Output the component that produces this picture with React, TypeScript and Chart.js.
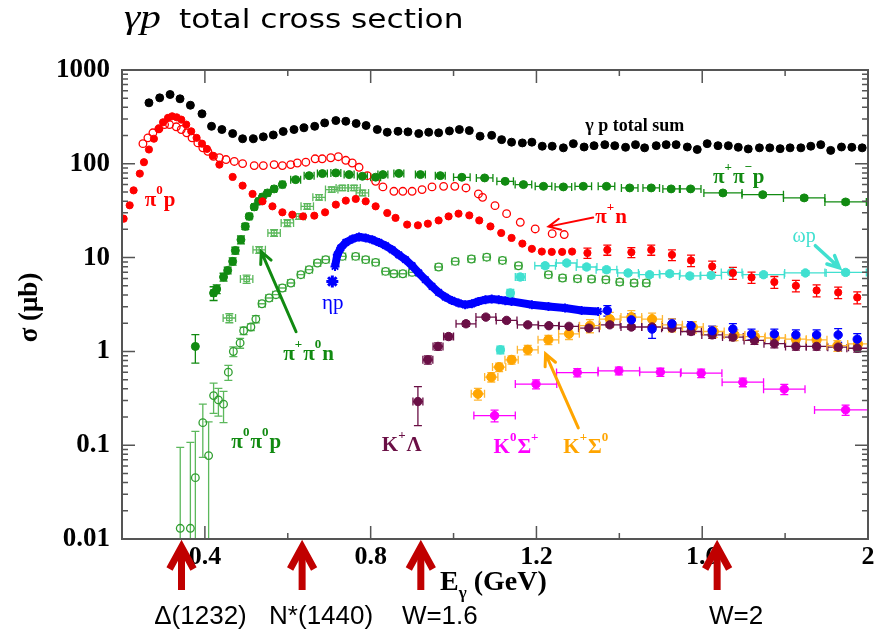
import React, { useEffect, useRef } from 'react';
import { Chart, registerables } from 'chart.js';

Chart.register(...registerables);

const SERIF = '"Liberation Serif", "Times New Roman", Times, serif';
const SANS = '"Liberation Sans", Arial, Helvetica, sans-serif';

// ---------- axes ----------
const xTickValues = [0.2, 0.4, 0.6, 0.8, 1.0, 1.2, 1.4, 1.6, 1.8, 2.0];
const xTickLabels = ['', '0.4', '', '0.8', '', '1.2', '', '1.6', '', '2'];
const yTickValues = [0.01, 0.1, 1, 10, 100, 1000];
const yTickLabels = ['0.01', '0.1', '1', '10', '100', '1000'];

// ---------- gamma p total sum ----------
const sumE = [0.265, 0.291, 0.316, 0.340, 0.365, 0.393, 0.416, 0.441, 0.467, 0.491,
  0.517, 0.541, 0.565, 0.589, 0.615, 0.639, 0.665, 0.689, 0.716, 0.740,
  0.765, 0.789, 0.816, 0.840, 0.866, 0.890, 0.916, 0.940, 0.964, 0.990,
  1.014, 1.038, 1.064, 1.092, 1.116, 1.140, 1.166, 1.189, 1.214, 1.238,
  1.265, 1.289, 1.315, 1.339, 1.365, 1.389, 1.415, 1.439, 1.461, 1.489,
  1.513, 1.537, 1.564, 1.588, 1.612, 1.638, 1.663, 1.687, 1.711, 1.738,
  1.763, 1.788, 1.812, 1.838, 1.862, 1.886, 1.910, 1.936, 1.961, 1.986];
const sumS = [447, 505, 548, 493, 421, 341, 251, 232, 210, 185,
  185, 194, 203, 221, 232, 242, 251, 273, 289, 284,
  269, 256, 232, 217, 222, 219, 210, 217, 214, 224,
  232, 226, 197, 201, 181, 170, 167, 170, 154, 154,
  148, 164, 151, 156, 160, 156, 150, 160, 148, 156,
  160, 160, 151, 142, 164, 156, 156, 150, 144, 148,
  148, 145, 148, 148, 154, 160, 139, 151, 150, 148];

// ---------- pi0 p ----------
const pi0pE = [0.204, 0.2185, 0.228, 0.243, 0.253, 0.265, 0.277, 0.289, 0.299, 0.311,
  0.321, 0.332, 0.343, 0.355, 0.367, 0.380, 0.393, 0.405, 0.419, 0.435,
  0.467, 0.491, 0.515, 0.539, 0.563, 0.587, 0.611, 0.637, 0.664, 0.690,
  0.716, 0.740, 0.764, 0.788, 0.812, 0.840, 0.860, 0.888, 0.914, 0.938,
  0.964, 0.988, 1.012, 1.038, 1.062, 1.089, 1.115, 1.140, 1.166, 1.189,
  1.213, 1.237, 1.262, 1.286, 1.323, 1.371, 1.429, 1.477, 1.527, 1.573,
  1.624, 1.674, 1.719, 1.774, 1.826, 1.876, 1.928, 1.974];
const pi0pS = [26.0, 36.1, 52.1, 78.6, 104, 142, 185, 236, 277, 309,
  321, 313, 296, 262, 222, 189, 164, 144, 122, 98,
  72.4, 58.5, 47.7, 39.8, 35.2, 30.4, 28.7, 27.5, 28.0, 30.4,
  36.7, 40.5, 42.2, 39.8, 35.2, 29.9, 26.5, 22.5, 22.1, 23.0,
  24.9, 27.5, 29.4, 28.2, 24.9, 21.5, 18.3, 16.2, 14.1, 12.4,
  11.6, 11.5, 11.5, 11.6, 11.2, 12.1, 11.4, 12.1, 10.7, 9.33,
  8.05, 6.86, 6.15, 5.49, 5.01, 4.47, 4.25, 3.76];
const pi0pDy = [0, 0, 0, 0, 0, 0, 0, 0, 0, 0,
  0, 0, 0, 0, 0, 0, 0, 0, 0, 0,
  0, 0, 0, 0, 0, 0, 0, 0, 0, 0,
  0, 0, 0, 0, 0, 0, 0, 0, 0, 0,
  0, 0, 0, 0, 0, 0, 0, 0, 0, 0,
  0, 0, 0, 0, 1.4, 1.5, 1.4, 1.5, 1.4, 1.3,
  1.1, 1.0, 0.85, 0.8, 0.7, 0.65, 0.6, 0.55];

// ---------- pi+ n ----------
const pipnE = [0.2505, 0.2625, 0.2746, 0.289, 0.3027, 0.3147, 0.331, 0.343, 0.356, 0.369,
  0.383, 0.395, 0.407, 0.4206, 0.435, 0.451, 0.471, 0.491, 0.519, 0.541,
  0.567, 0.587, 0.607, 0.623, 0.6435, 0.666, 0.683, 0.7037, 0.722, 0.740,
  0.7556, 0.772, 0.792, 0.812, 0.8295, 0.856, 0.8776, 0.900, 0.924, 0.948,
  0.976, 1.003, 1.030, 1.060, 1.070, 1.100, 1.128, 1.161, 1.197, 1.238, 1.267];
const pipnS = [164, 189, 214, 236, 262, 262, 248, 232, 214, 189,
  167, 148, 136, 120, 116, 111, 106, 100.5, 95.7, 95.7,
  98, 95.7, 98, 102, 104, 113, 113, 116, 119, 109,
  102, 91.8, 74.8, 65.0, 56.7, 50.9, 50.9, 50.9, 53.1, 56.7,
  57.5, 57.5, 55.3, 47.7, 43.9, 35.8, 29.4, 23.8, 20.2, 18.0, 17.6];

// ---------- pi+ pi- p ----------
const pippimE = [0.377, 0.421, 0.4285, 0.445, 0.455, 0.467, 0.4735, 0.487, 0.4975, 0.507,
  0.519, 0.5295, 0.539, 0.551, 0.567, 0.587, 0.619, 0.6515, 0.6835, 0.716,
  0.748, 0.780, 0.812, 0.8295, 0.868, 0.920, 0.968, 1.020, 1.075, 1.1245,
  1.1686, 1.217, 1.265, 1.313, 1.369, 1.425, 1.477, 1.525, 1.572, 1.650,
  1.746, 1.846, 1.946];
const pippimS = [1.13, 4.19, 4.62, 6.21, 7.30, 9.11, 11.9, 15.5, 21.5, 27.5,
  34.7, 39.8, 44.3, 48.9, 54.0, 60.0, 67.8, 74.8, 78.6, 80,
  76.7, 73.6, 72, 76.7, 79, 76.7, 74.8, 71.8, 70.7, 65.0,
  60.0, 57.5, 56.7, 57.5, 57.5, 55.3, 55.3, 54.0, 54.0, 48.9,
  46.9, 43.3, 39.2];
const pippimDx = [0, 0.006, 0.006, 0.006, 0.006, 0.006, 0.006, 0.006, 0.006, 0.006,
  0.006, 0.006, 0.006, 0.006, 0.006, 0.006, 0.012, 0.012, 0.012, 0.012,
  0.012, 0.012, 0.012, 0.012, 0.012, 0.012, 0.012, 0.02, 0.02, 0.02,
  0.02, 0.02, 0.02, 0.02, 0.02, 0.02, 0.02, 0.02, 0.025, 0.046,
  0.05, 0.05, 0.05];
const pippimDy = [0.38, 0.7, 0.5, 0.6, 0.6, 0.8, 1.0, 1.5, 1.5, 1.5,
  1.5, 1.5, 1.5, 1.5, 1.5, 1.5, 1.5, 1.5, 1.5, 1.5,
  1.5, 1.5, 1.5, 1.5, 2, 2, 2, 2, 2, 2,
  2, 2, 2, 2, 2, 2, 2, 2, 2, 2,
  2, 2, 2];

// ---------- pi+ pi0 n ----------
const pippi0E = [0.459, 0.5007, 0.531, 0.567, 0.599, 0.627, 0.647, 0.6755, 0.706, 0.7316, 0.760, 0.780];
const pippi0S = [2.27, 5.91, 12.1, 18.3, 23.4, 27.5, 35.2, 43.9, 53.1, 55.3, 55.3, 48.9];
const pippi0Dx = [0.015, 0.015, 0.015, 0.015, 0.015, 0.015, 0.015, 0.015, 0.015, 0.015, 0.015, 0.015];
const pippi0Dy = [0.25, 0.6, 1.0, 1.5, 2, 2, 2.5, 3, 3.5, 3.5, 3.5, 3.5];

// ---------- pi0 pi0 p ----------
const pi0pi0E = [0.3405, 0.365, 0.377, 0.395, 0.409, 0.421, 0.4326, 0.445, 0.4566, 0.4687,
  0.485, 0.4935, 0.511, 0.523, 0.5377, 0.555, 0.5714, 0.587, 0.6075, 0.6315,
  0.6515, 0.6714, 0.6916, 0.7316, 0.7638, 0.788, 0.812, 0.836, 0.856, 0.8776,
  0.900, 0.964, 1.004, 1.043, 1.080, 1.118, 1.1566, 1.2288, 1.263, 1.299,
  1.333, 1.3675, 1.401, 1.4356, 1.465];
const pi0pi0S = [0.013, 0.013, 0.0451, 0.174, 0.0775, 0.338, 0.304, 0.274, 0.601, 0.998,
  1.23, 1.66, 1.82, 2.21, 3.22, 3.71, 4.02, 4.74, 5.36, 6.57,
  7.43, 8.76, 9.51, 10.3, 10.3, 9.51, 8.89, 7.13, 6.73, 6.73,
  6.95, 7.94, 9.11, 9.66, 10.1, 9.33, 8.19, 6.57, 6.06, 5.96,
  5.91, 5.81, 5.49, 5.36, 5.36];
const pi0pi0Dy = [0.082, 0.094, 0.095, 0.1, 0.1, 0.12, 0.1, 0.1, 0.11, 0.12,
  0.15, 0.15, 0.15, 0.2, 0, 0, 0, 0, 0, 0,
  0, 0, 0, 0, 0, 0, 0, 0, 0, 0,
  0, 0, 0, 0, 0, 0, 0, 0, 0, 0,
  0, 0, 0, 0, 0];
const pi0pi0Dx = [0, 0, 0, 0, 0, 0, 0, 0, 0, 0,
  0, 0, 0, 0, 0.008, 0.008, 0.008, 0.008, 0.008, 0.008,
  0.008, 0.008, 0.008, 0.008, 0.008, 0.008, 0.008, 0.008, 0.008, 0.008,
  0.008, 0.008, 0.008, 0.008, 0.008, 0.008, 0.008, 0.008, 0.008, 0.008,
  0.008, 0.008, 0.008, 0.008, 0.008];

// ---------- eta p ----------
const etaBandE = [0.714, 0.7195, 0.728, 0.740, 0.756, 0.772, 0.788, 0.804, 0.820, 0.836,
  0.852, 0.868, 0.884, 0.900, 0.916, 0.932, 0.948, 0.964, 0.980, 0.996,
  1.012, 1.028, 1.044, 1.060, 1.077, 1.092, 1.109, 1.125, 1.140, 1.189,
  1.229, 1.269, 1.309, 1.349];
const etaBandS = [8.05, 10.7, 12.7, 14.5, 15.8, 16.6, 16.2, 15.5, 14.5, 13.4,
  12.1, 10.7, 9.51, 8.19, 6.86, 5.81, 4.93, 4.25, 3.80, 3.49,
  3.28, 3.14, 3.22, 3.41, 3.56, 3.61, 3.56, 3.47, 3.41, 3.14,
  3.01, 2.90, 2.73, 2.67];
const etaLoneE = [0.7075];
const etaLoneS = [5.57];
const etaHiE = [1.371, 1.429, 1.479, 1.527, 1.573, 1.624, 1.674, 1.719, 1.774, 1.826, 1.876, 1.928, 1.974];
const etaHiS = [2.73, 2.17, 1.73, 1.97, 1.88, 1.66, 1.73, 1.53, 1.53, 1.50, 1.50, 1.50, 1.35];
const etaHiDy = [0.35, 0.35, 0.35, 0.25, 0.2, 0.2, 0.25, 0.2, 0.2, 0.2, 0.2, 0.25, 0.2];

// ---------- omega p ----------
const omegaE = [1.113, 1.137, 1.161, 1.221, 1.273, 1.321, 1.369, 1.421, 1.473, 1.5215, 1.570, 1.6215, 1.671, 1.748, 1.849, 1.946];
const omegaS = [1.04, 4.19, 6.21, 8.19, 8.76, 7.94, 7.43, 6.86, 6.57, 6.73, 6.37, 6.46, 6.95, 6.57, 6.86, 6.95];
const omegaDx = [0.008, 0.008, 0.012, 0.025, 0.025, 0.025, 0.025, 0.025, 0.025, 0.025, 0.025, 0.025, 0.025, 0.05, 0.05, 0.05];
const omegaDy = [0.1, 0.4, 0.5, 0.5, 0.5, 0.5, 0.5, 0.4, 0.4, 0.4, 0.4, 0.4, 0.4, 0.4, 0.4, 0.4];

// ---------- K+ Lambda ----------
const kLamE = [0.914, 0.938, 0.9625, 0.988, 1.030, 1.078, 1.128, 1.179, 1.230, 1.2785,
  1.3266, 1.377, 1.429, 1.479, 1.527, 1.573, 1.624, 1.674, 1.726, 1.774,
  1.826, 1.876, 1.928, 1.974];
const kLamS = [0.292, 0.813, 1.13, 1.44, 1.97, 2.32, 2.14, 1.92, 1.88, 1.85,
  1.77, 1.92, 1.82, 1.82, 1.77, 1.63, 1.50, 1.42, 1.31, 1.21,
  1.13, 1.13, 1.11, 1.08];
const kLamDx = [0.012, 0.012, 0.012, 0.012, 0.024, 0.024, 0.025, 0.025, 0.025, 0.025,
  0.025, 0.025, 0.025, 0.025, 0.025, 0.025, 0.025, 0.025, 0.025, 0.025,
  0.025, 0.025, 0.025, 0.025];
const kLamDy = [0.13, 0.08, 0.1, 0.1, 0.12, 0.12, 0.1, 0.08, 0.08, 0.08,
  0.08, 0.1, 0.1, 0.1, 0.1, 0.12, 0.12, 0.12, 0.12, 0.12,
  0.1, 0.1, 0.1, 0.1];

// ---------- K0 Sigma+ ----------
const k0SigE = [1.099, 1.199, 1.2985, 1.3988, 1.499, 1.5975, 1.698, 1.798, 1.946];
const k0SigS = [0.207, 0.448, 0.595, 0.621, 0.601, 0.586, 0.47, 0.396, 0.238];
const k0SigDx = [0.05, 0.05, 0.05, 0.05, 0.05, 0.05, 0.05, 0.05, 0.075];
const k0SigDy = [0.03, 0.05, 0.06, 0.06, 0.06, 0.06, 0.05, 0.05, 0.03];

// ---------- K+ Sigma0 ----------
const kSig0E = [1.0587, 1.091, 1.110, 1.140, 1.179, 1.2288, 1.2785, 1.329, 1.377, 1.429,
  1.479, 1.527, 1.5775, 1.628, 1.678, 1.727, 1.7755, 1.826, 1.876, 1.926, 1.976];
const kSig0S = [0.353, 0.532, 0.68, 0.813, 1.04, 1.33, 1.54, 1.88, 2.21, 2.32,
  2.21, 1.92, 1.82, 1.63, 1.50, 1.44, 1.39, 1.35, 1.33, 1.15, 1.20];
const kSig0Dx = [0.016, 0.016, 0.016, 0.016, 0.025, 0.025, 0.025, 0.025, 0.025, 0.025,
  0.025, 0.025, 0.025, 0.025, 0.025, 0.025, 0.025, 0.025, 0.025, 0.025, 0.025];
const kSig0Dy = [0.05, 0.06, 0.07, 0.08, 0.12, 0.15, 0.2, 0.3, 0.4, 0.4,
  0.35, 0.3, 0.25, 0.22, 0.2, 0.2, 0.18, 0.18, 0.18, 0.15, 0.15];

// ---------- resonance / threshold markers ----------
const thresholdE = [0.3436, 0.6346, 0.921, 1.636];
const thresholdLabels = ['Δ(1232)', 'N*(1440)', 'W=1.6', 'W=2'];

// ---------- colours ----------
const BLACK = '#000000';
const RED = '#ff0000';
const GREEN = '#118a11';
const MGREEN = '#2f9e2f';
const LGREEN = '#5cb85c';
const BLUE = '#0000ff';
const CYAN = '#40e0d0';
const PURPLE = '#6a0f45';
const MAGENTA = '#ff00ff';
const ORANGE = '#ffa500';
const DARKRED = '#c00000';

type Part = [string, 'n' | 'sup' | 'sub'];
const annotations: { e: number; s: number; parts: Part[]; size: number; bold: boolean; color: string }[] = [
  { e: 1.3178, s: 226, parts: [['γ p total sum', 'n']], size: 18, bold: true, color: BLACK },
  { e: 0.2546, s: 35.8, parts: [['π', 'n'], ['0', 'sup'], ['p', 'n']], size: 21, bold: true, color: RED },
  { e: 1.342, s: 23.6, parts: [['π', 'n'], ['+', 'sup'], ['n', 'n']], size: 21, bold: true, color: RED },
  { e: 1.626, s: 63, parts: [['π', 'n'], ['+', 'sup'], ['π', 'n'], ['−', 'sup'], ['p', 'n']], size: 21, bold: true, color: GREEN },
  { e: 1.818, s: 14.8, parts: [['ωp', 'n']], size: 20, bold: false, color: CYAN },
  { e: 0.6827, s: 2.85, parts: [['ηp', 'n']], size: 21, bold: false, color: BLUE },
  { e: 0.589, s: 0.813, parts: [['π', 'n'], ['+', 'sup'], ['π', 'n'], ['0', 'sup'], ['n', 'n']], size: 21, bold: true, color: GREEN },
  { e: 0.4639, s: 0.0935, parts: [['π', 'n'], ['0', 'sup'], ['π', 'n'], ['0', 'sup'], ['p', 'n']], size: 21, bold: true, color: GREEN },
  { e: 0.827, s: 0.0869, parts: [['K', 'n'], ['+', 'sup'], ['Λ', 'n']], size: 21, bold: true, color: PURPLE },
  { e: 1.0965, s: 0.0828, parts: [['K', 'n'], ['0', 'sup'], ['Σ', 'n'], ['+', 'sup']], size: 21, bold: true, color: MAGENTA },
  { e: 1.2649, s: 0.0828, parts: [['K', 'n'], ['+', 'sup'], ['Σ', 'n'], ['0', 'sup']], size: 21, bold: true, color: ORANGE },
];

const pointerArrows = [
  { e1: 1.337, s1: 26.7, e2: 1.229, s2: 21.4, color: RED, w: 2 },
  { e1: 1.873, s1: 13.4, e2: 1.931, s2: 7.8, color: CYAN, w: 3.5 },
  { e1: 0.620, s1: 1.62, e2: 0.536, s2: 11.6, color: GREEN, w: 3 },
  { e1: 1.301, s1: 0.153, e2: 1.222, s2: 0.942, color: ORANGE, w: 3 },
];

function pts(e: number[], s: number[]) {
  return e.map((x, i) => ({ x, y: s[i] }));
}

function drawParts(ctx: CanvasRenderingContext2D, x: number, y: number, parts: Part[], size: number, bold: boolean, color: string) {
  let cx = x;
  ctx.fillStyle = color;
  ctx.textAlign = 'left';
  ctx.textBaseline = 'alphabetic';
  for (const [t, m] of parts) {
    const fs = m === 'n' ? size : Math.round(size * 0.62);
    ctx.font = `${bold ? 'bold ' : ''}${fs}px ${SERIF}`;
    const dy = m === 'sup' ? -size * 0.55 : m === 'sub' ? size * 0.3 : 0;
    ctx.fillText(t, cx, y + dy);
    cx += ctx.measureText(t).width + (m === 'sup' ? 1 : 0);
  }
}

function drawArrow(ctx: CanvasRenderingContext2D, x1: number, y1: number, x2: number, y2: number, color: string, w: number) {
  const ang = Math.atan2(y2 - y1, x2 - x1);
  const head = 13;
  ctx.strokeStyle = color;
  ctx.lineWidth = w;
  ctx.lineCap = 'round';
  ctx.beginPath();
  ctx.moveTo(x1, y1);
  ctx.lineTo(x2, y2);
  ctx.moveTo(x2 - head * Math.cos(ang - 0.45), y2 - head * Math.sin(ang - 0.45));
  ctx.lineTo(x2, y2);
  ctx.lineTo(x2 - head * Math.cos(ang + 0.45), y2 - head * Math.sin(ang + 0.45));
  ctx.stroke();
}

const errorBarPlugin = {
  id: 'errorBars',
  beforeDatasetsDraw(chart: any) {
    const { ctx, chartArea: a, scales } = chart;
    const xs = scales.x, ys = scales.y;
    ctx.save();
    ctx.beginPath();
    ctx.rect(a.left, a.top, a.right - a.left, a.bottom - a.top);
    ctx.clip();
    chart.data.datasets.forEach((ds: any) => {
      if (!ds.dx && !ds.dy) return;
      ctx.strokeStyle = ds.errColor || ds.borderColor;
      ctx.lineWidth = ds.errWidth || 1.3;
      ds.data.forEach((p: any, i: number) => {
        const px = xs.getPixelForValue(p.x);
        const py = ys.getPixelForValue(p.y);
        const ex = ds.dx ? ds.dx[i] : 0;
        const ey = ds.dy ? ds.dy[i] : 0;
        ctx.beginPath();
        if (ex > 0) {
          const l = xs.getPixelForValue(p.x - ex);
          const r = xs.getPixelForValue(p.x + ex);
          ctx.moveTo(l, py); ctx.lineTo(r, py);
          ctx.moveTo(l, py - 4); ctx.lineTo(l, py + 4);
          ctx.moveTo(r, py - 4); ctx.lineTo(r, py + 4);
        }
        if (ey > 0) {
          const hasLo = p.y - ey > 0;
          const lo = hasLo ? ys.getPixelForValue(p.y - ey) : a.bottom + 5;
          const hi = ys.getPixelForValue(p.y + ey);
          ctx.moveTo(px, lo); ctx.lineTo(px, hi);
          ctx.moveTo(px - 4, hi); ctx.lineTo(px + 4, hi);
          if (hasLo) { ctx.moveTo(px - 4, lo); ctx.lineTo(px + 4, lo); }
        }
        ctx.stroke();
      });
    });
    ctx.restore();
  },
};

const decorPlugin = {
  id: 'decor',
  afterDraw(chart: any) {
    const { ctx, chartArea: a, scales } = chart;
    const xs = scales.x, ys = scales.y;
    ctx.save();

    // frame and inward ticks
    ctx.strokeStyle = '#555555';
    ctx.lineWidth = 2;
    ctx.strokeRect(a.left, a.top, a.right - a.left, a.bottom - a.top);
    ctx.lineWidth = 1.5;
    ctx.beginPath();
    for (let k = 0; k < yTickValues.length; k++) {
      for (let m = 1; m <= 9; m++) {
        const v = yTickValues[k] * m;
        if (v > 1000.0001) break;
        const py = ys.getPixelForValue(v);
        const len = m === 1 ? 13 : 6;
        ctx.moveTo(a.left, py); ctx.lineTo(a.left + len, py);
        ctx.moveTo(a.right, py); ctx.lineTo(a.right - len, py);
      }
    }
    xTickValues.forEach((v, i) => {
      const px = xs.getPixelForValue(v);
      const len = i % 2 === 1 || i === xTickValues.length - 1 ? 13 : 6;
      ctx.moveTo(px, a.bottom); ctx.lineTo(px, a.bottom - len);
      ctx.moveTo(px, a.top); ctx.lineTo(px, a.top + len);
    });
    ctx.stroke();

    // series labels
    annotations.forEach((an) => {
      drawParts(ctx, xs.getPixelForValue(an.e), ys.getPixelForValue(an.s), an.parts, an.size, an.bold, an.color);
    });
    pointerArrows.forEach((ar) => {
      drawArrow(ctx, xs.getPixelForValue(ar.e1), ys.getPixelForValue(ar.s1), xs.getPixelForValue(ar.e2), ys.getPixelForValue(ar.s2), ar.color, ar.w);
    });

    // axis titles
    drawParts(ctx, a.left + 318, a.bottom + 51, [['E', 'n'], ['γ', 'sub'], [' (GeV)', 'n']], 28, true, '#000');
    ctx.save();
    ctx.translate(30, (a.top + a.bottom) / 2 + 3);
    ctx.rotate(-Math.PI / 2);
    ctx.font = `bold 27px ${SERIF}`;
    ctx.fillStyle = '#000';
    ctx.textAlign = 'center';
    ctx.textBaseline = 'middle';
    ctx.fillText('σ (μb)', 0, 0);
    ctx.restore();

    // threshold arrows below the axis
    thresholdE.forEach((e, i) => {
      const px = xs.getPixelForValue(e);
      ctx.strokeStyle = DARKRED;
      ctx.lineWidth = 7;
      ctx.lineCap = 'butt';
      ctx.lineJoin = 'miter';
      ctx.beginPath();
      ctx.moveTo(px, a.bottom + 51);
      ctx.lineTo(px, a.bottom + 10);
      ctx.stroke();
      ctx.beginPath();
      ctx.moveTo(px - 12, a.bottom + 30);
      ctx.lineTo(px, a.bottom + 8);
      ctx.lineTo(px + 12, a.bottom + 30);
      ctx.stroke();
      ctx.fillStyle = '#000';
      ctx.font = `26px ${SANS}`;
      ctx.textAlign = 'center';
      ctx.textBaseline = 'alphabetic';
      ctx.fillText(thresholdLabels[i], px + 19, a.bottom + 85);
    });

    // title
    ctx.fillStyle = '#000';
    ctx.textAlign = 'left';
    ctx.textBaseline = 'alphabetic';
    ctx.save();
    ctx.translate(124, 28);
    ctx.scale(1.25, 1);
    ctx.font = `italic 33px ${SERIF}`;
    ctx.fillText('γp', 0, 0);
    ctx.restore();
    ctx.save();
    ctx.translate(179, 28);
    ctx.scale(1.2, 1);
    ctx.font = `26px "DejaVu Sans", sans-serif`;
    ctx.fillText('total cross section', 0, 0);
    ctx.restore();

    ctx.restore();
  },
};

export default function App() {
  const ref = useRef<HTMLCanvasElement | null>(null);

  useEffect(() => {
    if (!ref.current) return;
    const mk = (o: any) => ({ showLine: false, pointStyle: 'circle', pointBorderWidth: 1, ...o });
    const chart = new Chart(ref.current, {
      type: 'scatter',
      data: {
        datasets: [
          mk({ label: 'γp total sum', data: pts(sumE, sumS), pointRadius: 4, backgroundColor: BLACK, borderColor: BLACK }),
          mk({ label: 'π0p', data: pts(pi0pE, pi0pS), dy: pi0pDy, pointRadius: 3.6, backgroundColor: RED, borderColor: RED }),
          mk({ label: 'ηp high', data: pts(etaHiE, etaHiS), dy: etaHiDy, pointRadius: 4.2, backgroundColor: BLUE, borderColor: BLUE }),
          mk({ label: 'K+Λ', data: pts(kLamE, kLamS), dx: kLamDx, dy: kLamDy, pointRadius: 4.2, backgroundColor: PURPLE, borderColor: PURPLE }),
          mk({ label: 'K+Σ0', data: pts(kSig0E, kSig0S), dx: kSig0Dx, dy: kSig0Dy, errColor: '#ffb733', pointRadius: 4.6, backgroundColor: ORANGE, borderColor: ORANGE }),
          mk({ label: 'K0Σ+', data: pts(k0SigE, k0SigS), dx: k0SigDx, dy: k0SigDy, pointRadius: 4.2, backgroundColor: MAGENTA, borderColor: MAGENTA }),
          mk({ label: 'ωp', data: pts(omegaE, omegaS), dx: omegaDx, dy: omegaDy, pointRadius: 4.2, backgroundColor: CYAN, borderColor: CYAN }),
          mk({ label: 'π+π-p', data: pts(pippimE, pippimS), dx: pippimDx, dy: pippimDy, pointRadius: 4, backgroundColor: GREEN, borderColor: GREEN }),
          mk({ label: 'ηp lone', data: pts(etaLoneE, etaLoneS), pointStyle: 'star', pointRadius: 6, pointBorderWidth: 3, backgroundColor: BLUE, borderColor: BLUE }),
          {
            label: 'ηp', data: pts(etaBandE, etaBandS), showLine: true, borderColor: BLUE, backgroundColor: BLUE,
            borderWidth: 8, tension: 0, pointStyle: 'star', pointRadius: 4.5, pointBorderWidth: 2,
          },
          mk({ label: 'π+n', data: pts(pipnE, pipnS), pointRadius: 3.8, pointBorderWidth: 1.3, backgroundColor: 'rgba(255,255,255,0)', borderColor: RED }),
          mk({ label: 'π0π0p', data: pts(pi0pi0E, pi0pi0S), dx: pi0pi0Dx, dy: pi0pi0Dy, errColor: LGREEN, pointRadius: 3.8, pointBorderWidth: 1.3, backgroundColor: 'rgba(255,255,255,0)', borderColor: MGREEN }),
          mk({ label: 'π+π0n', data: pts(pippi0E, pippi0S), dx: pippi0Dx, dy: pippi0Dy, errColor: LGREEN, pointStyle: 'rect', pointRadius: 3.8, pointBorderWidth: 1.3, backgroundColor: 'rgba(255,255,255,0)', borderColor: LGREEN }),
        ],
      },
      options: {
        responsive: false,
        maintainAspectRatio: false,
        devicePixelRatio: 1,
        animation: false,
        events: [],
        layout: { padding: { top: 70, right: 19, left: 0, bottom: 0 } },
        plugins: { legend: { display: false }, tooltip: { enabled: false }, title: { display: false } },
        scales: {
          x: {
            type: 'linear',
            min: 0.2,
            max: 2.0,
            afterBuildTicks: (s: any) => { s.ticks = xTickValues.map((v) => ({ value: v })); },
            afterFit: (s: any) => { s.height = 97; },
            grid: { display: false, drawTicks: false },
            border: { display: false },
            ticks: {
              autoSkip: false,
              maxRotation: 0,
              padding: 3,
              color: '#000',
              font: { family: SERIF, size: 26, weight: 'bold' },
              callback: (_v: any, i: number) => xTickLabels[i],
            },
          },
          y: {
            type: 'logarithmic',
            min: 0.01,
            max: 1000,
            afterBuildTicks: (s: any) => { s.ticks = yTickValues.map((v) => ({ value: v })); },
            afterFit: (s: any) => { s.width = 122; },
            grid: { display: false, drawTicks: false },
            border: { display: false },
            ticks: {
              autoSkip: false,
              padding: 12,
              color: '#000',
              font: { family: SERIF, size: 27, weight: 'bold' },
              callback: (_v: any, i: number) => yTickLabels[i],
            },
          },
        },
      } as any,
      plugins: [errorBarPlugin, decorPlugin],
    });
    return () => chart.destroy();
  }, []);

  return (
    <div style={{ position: 'fixed', left: 0, top: 0, width: 887, height: 636, background: '#fff' }}>
      <canvas ref={ref} width={887} height={636} style={{ display: 'block', width: 887, height: 636 }} />
    </div>
  );
}
